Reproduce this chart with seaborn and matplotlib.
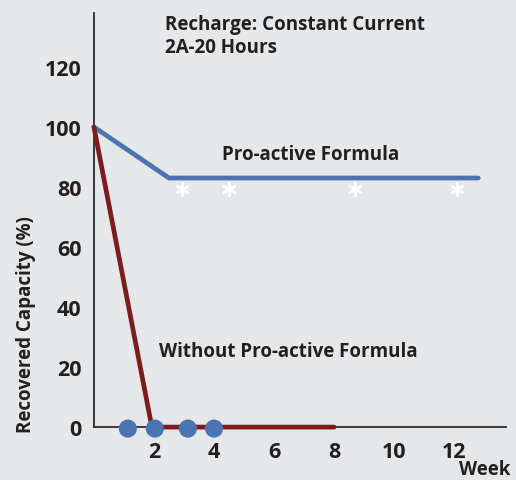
import seaborn as sns
import matplotlib.pyplot as plt
import pandas as pd

# data
proactive_week = [0, 2.5, 12.8]
proactive_capacity = [100, 83, 83]
without_week = [0, 1.93, 8]
without_capacity = [100, 0, 0]
dot_week = [1.13, 2.03, 3.13, 4.0]
dot_capacity = [-0.5, -0.5, -0.5, -0.5]
star_week = [2.93, 4.5, 8.7, 12.1]
star_capacity = [79.5, 79.5, 79.5, 79.5]
x_ticks = [2, 4, 6, 8, 10, 12]
y_ticks = [0, 20, 40, 60, 80, 100, 120]

bg = '#e6e7e8'
blue = '#4a75b0'
red = '#7b1d1d'
ink = '#231f20'

sns.set_style('white')
plt.rcParams['font.family'] = ['Open Sans', 'DejaVu Sans']
plt.rcParams['font.weight'] = 'bold'

fig = plt.figure(figsize=(5.16, 4.81), dpi=100, facecolor=bg)
ax = fig.add_axes([0.182, 0.110, 0.799, 0.861])
ax.set_facecolor(bg)

pro = pd.DataFrame({'week': proactive_week, 'capacity': proactive_capacity})
wo = pd.DataFrame({'week': without_week, 'capacity': without_capacity})
dots = pd.DataFrame({'week': dot_week, 'capacity': dot_capacity})
stars = pd.DataFrame({'week': star_week, 'capacity': star_capacity})

sns.lineplot(data=pro, x='week', y='capacity', ax=ax, color=blue,
             linewidth=3.4, sort=False, clip_on=False, zorder=3)
sns.lineplot(data=wo, x='week', y='capacity', ax=ax, color=red,
             linewidth=3.4, sort=False, clip_on=False, zorder=3)
sns.scatterplot(data=dots, x='week', y='capacity', ax=ax, color=blue,
                s=170, edgecolor='none', clip_on=False, zorder=4)
sns.scatterplot(data=stars, x='week', y='capacity', ax=ax, color='white',
                marker=(6, 2, 0), s=90, linewidth=1.6, clip_on=False, zorder=4)

ax.set_xlim(0, 13.73)
ax.set_ylim(0, 138)
ax.set_xticks(x_ticks)
ax.set_yticks(y_ticks)
ax.tick_params(axis='both', direction='in', length=10, width=1.3,
               color='#2a2a2a', labelsize=15.5, labelcolor=ink)
ax.tick_params(axis='x', pad=10)
ax.tick_params(axis='y', pad=9)
for lab in ax.get_xticklabels() + ax.get_yticklabels():
    lab.set_fontweight('bold')

for side in ['top', 'right']:
    ax.spines[side].set_visible(False)
for side in ['left', 'bottom']:
    ax.spines[side].set_color('#2a2a2a')
    ax.spines[side].set_linewidth(1.3)

ax.set_xlabel('')
ax.set_ylabel('Recovered Capacity (%)', fontsize=13.5, fontweight='bold',
              color=ink)
ax.yaxis.set_label_coords(-0.14, 0.25)

ax.text(2.37, 137.5, 'Recharge: Constant Current\n2A-20 Hours', fontsize=13.5,
        fontweight='bold', color=ink, va='top', ha='left', linespacing=1.2)
ax.text(4.25, 91, 'Pro-active Formula', fontsize=13.5, fontweight='bold',
        color=ink, va='center', ha='left')
ax.text(2.17, 25.5, 'Without Pro-active Formula', fontsize=13.5,
        fontweight='bold', color=ink, va='center', ha='left')
fig.text(0.99, 0.003, 'Week', fontsize=13.5, fontweight='bold', color=ink,
         ha='right', va='bottom')

fig.savefig('out.png', dpi=100, facecolor=bg)
